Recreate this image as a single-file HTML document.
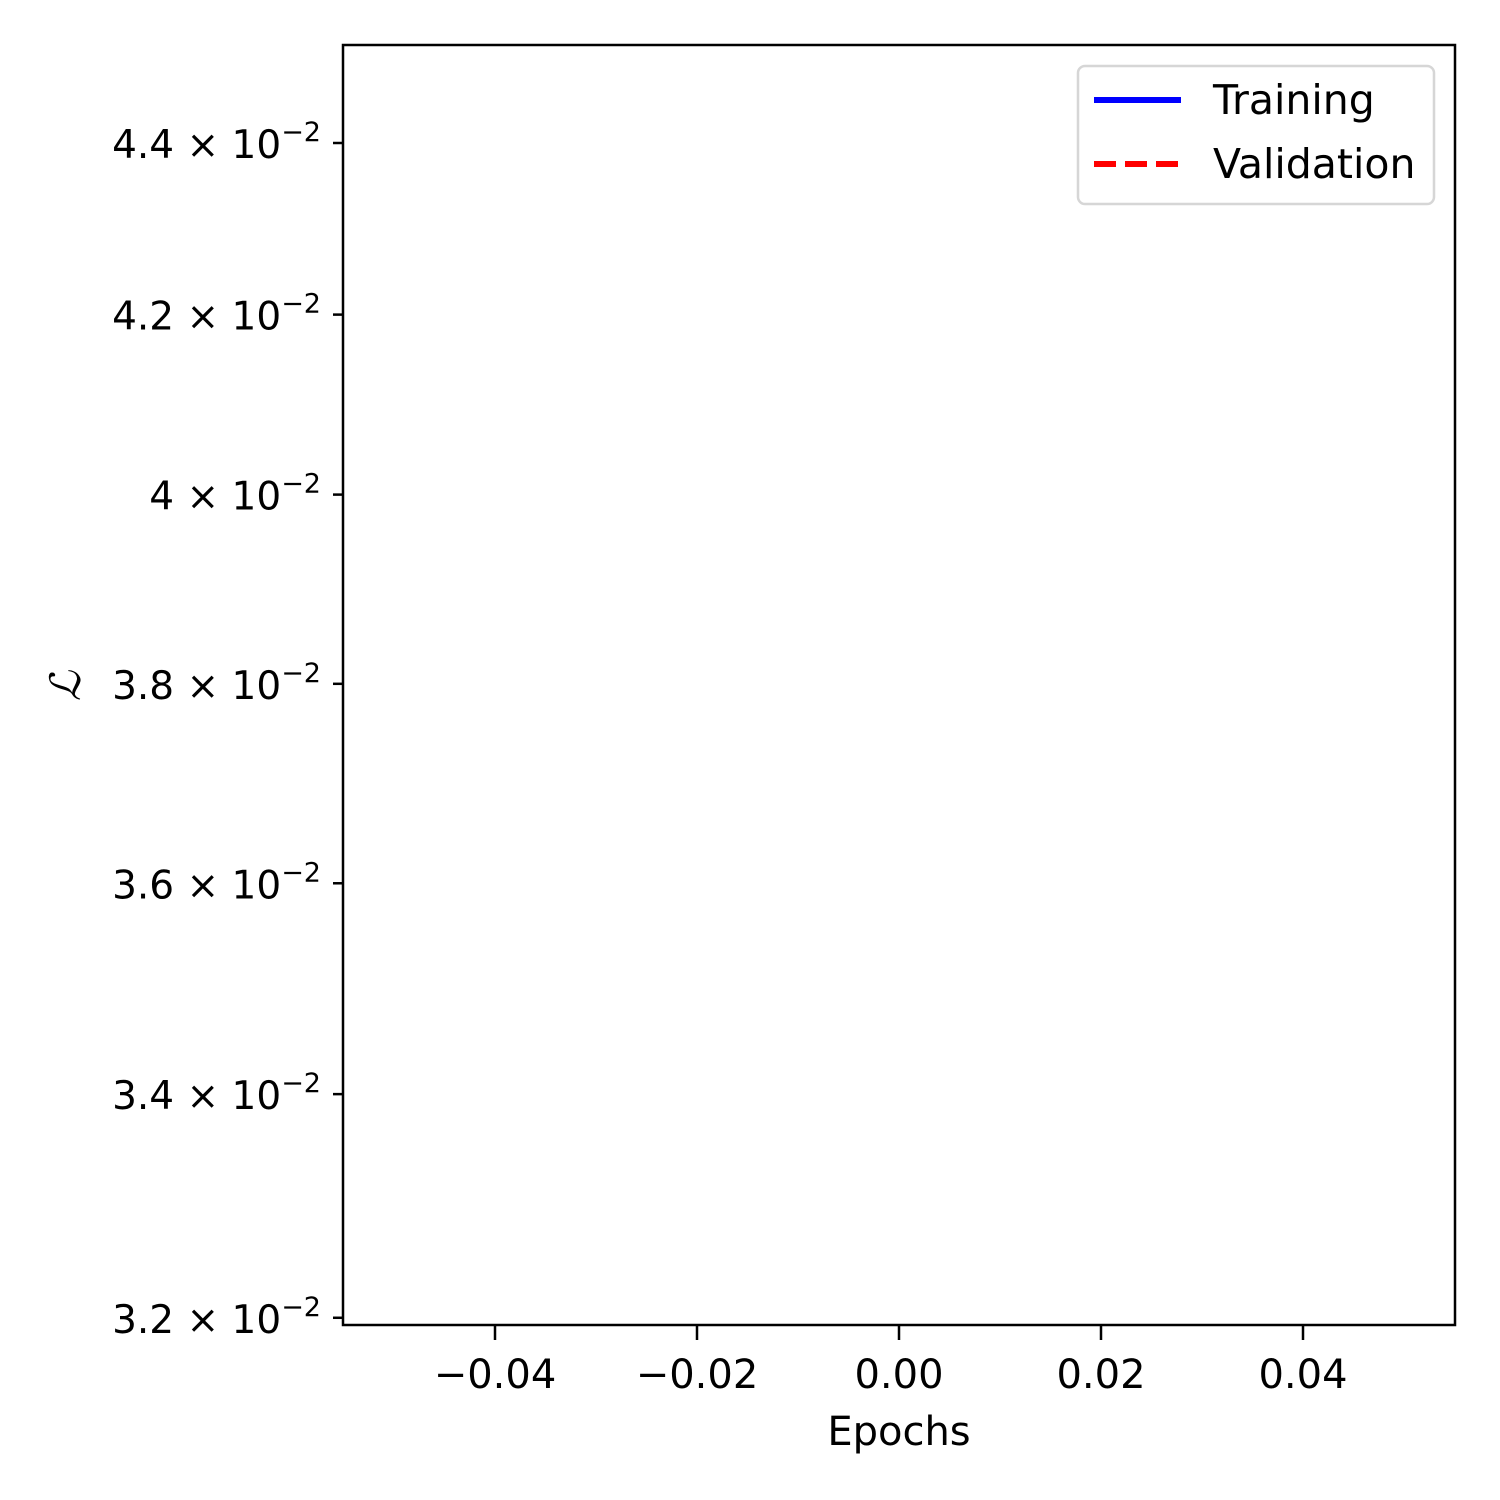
<!DOCTYPE html>
<html><head><meta charset="utf-8"><style>
html,body{margin:0;padding:0;background:#fff;}
svg{display:block;font-family:"DejaVu Sans","Liberation Sans",sans-serif;}
</style></head><body>
<svg id="chart" width="1500" height="1500" viewBox="0 0 1500 1500" xmlns="http://www.w3.org/2000/svg">
<rect x="0" y="0" width="1500" height="1500" fill="#fff"/>
<g id="xticks"></g>
<g id="yticks"></g>
<g id="series"></g>
<rect x="343" y="45" width="1112" height="1280" fill="none" stroke="#000" stroke-width="2.5"/>
<text x="899" y="1445" font-size="40" text-anchor="middle">Epochs</text>
<text x="80" y="686" font-size="42" font-family="Liberation Serif, serif" font-style="italic" text-anchor="middle" transform="rotate(-90 80 686)">ℒ</text>
<g>
<rect x="1078" y="66" width="356" height="138" rx="7" fill="#fff" fill-opacity="0.8" stroke="#d6d6d6" stroke-width="2.5"/>
<g>
<line x1="1094" y1="100" x2="1181" y2="100" stroke="#0000ff" stroke-width="6"/>
<text x="1213" y="114" font-size="41">Training</text>
</g>
<g>
<line x1="1094" y1="164" x2="1181" y2="164" stroke="#ff0000" stroke-width="6" stroke-dasharray="22,9"/>
<text x="1213" y="178" font-size="41">Validation</text>
</g>
</g>
</svg>
<script>
const xTickValues = [-0.04, -0.02, 0.00, 0.02, 0.04];
const xTickLabels = ["\u22120.04", "\u22120.02", "0.00", "0.02", "0.04"];
const yTickValues = [0.044, 0.042, 0.040, 0.038, 0.036, 0.034, 0.032];
const yTickMantissa = ["4.4", "4.2", "4", "3.8", "3.6", "3.4", "3.2"];
const epochs = [0];
const trainingLoss = [0.0375];
const validationLoss = [0.0375];

const NS = "http://www.w3.org/2000/svg";
function xScale(v){ return 899 + v * 10100; }
function yScale(v){ return 143 + (Math.log(0.044) - Math.log(v)) * 3689; }

const xg = document.getElementById('xticks');
xTickValues.forEach((v, i) => {
  const x = xScale(v);
  const t = document.createElementNS(NS, 'line');
  
  
  t.setAttribute('x1', x); t.setAttribute('x2', x);
  t.setAttribute('y1', 1325); t.setAttribute('y2', 1340);
  t.setAttribute('stroke', '#000'); t.setAttribute('stroke-width', '2.5');
  xg.appendChild(t);
  const l = document.createElementNS(NS, 'text');
  
  
  l.setAttribute('x', x); l.setAttribute('y', 1388);
  l.setAttribute('font-size', '40'); l.setAttribute('text-anchor', 'middle');
  l.textContent = xTickLabels[i];
  xg.appendChild(l);
});

const yg = document.getElementById('yticks');
yTickValues.forEach((v, i) => {
  const y = yScale(v);
  const t = document.createElementNS(NS, 'line');
  
  
  t.setAttribute('x1', 333); t.setAttribute('x2', 343);
  t.setAttribute('y1', y); t.setAttribute('y2', y);
  t.setAttribute('stroke', '#000'); t.setAttribute('stroke-width', '2.5');
  yg.appendChild(t);
  const l = document.createElementNS(NS, 'text');
  
  
  l.setAttribute('x', 321); l.setAttribute('y', y + 15);
  l.setAttribute('font-size', '39'); l.setAttribute('text-anchor', 'end');
  l.setAttribute('xml:space', 'preserve');
  const a = document.createElementNS(NS, 'tspan');
  a.textContent = yTickMantissa[i] + " \u00d7 10";
  l.appendChild(a);
  const b = document.createElementNS(NS, 'tspan');
  b.setAttribute('dy', '-17'); b.setAttribute('font-size', '27');
  b.textContent = "\u22122";
  l.appendChild(b);
  yg.appendChild(l);
});

const sg = document.getElementById('series');
function drawLine(vals, color, dash, name){
  const p = document.createElementNS(NS, 'polyline');
  
  
  p.setAttribute('points', epochs.map((e, i) => xScale(e) + ',' + yScale(vals[i])).join(' '));
  p.setAttribute('fill', 'none'); p.setAttribute('stroke', color);
  p.setAttribute('stroke-width', '6');
  if (dash) p.setAttribute('stroke-dasharray', dash);
  sg.appendChild(p);
}
drawLine(trainingLoss, '#0000ff', null, 'training-line');
drawLine(validationLoss, '#ff0000', '22,9', 'validation-line');
</script>
</body></html>
